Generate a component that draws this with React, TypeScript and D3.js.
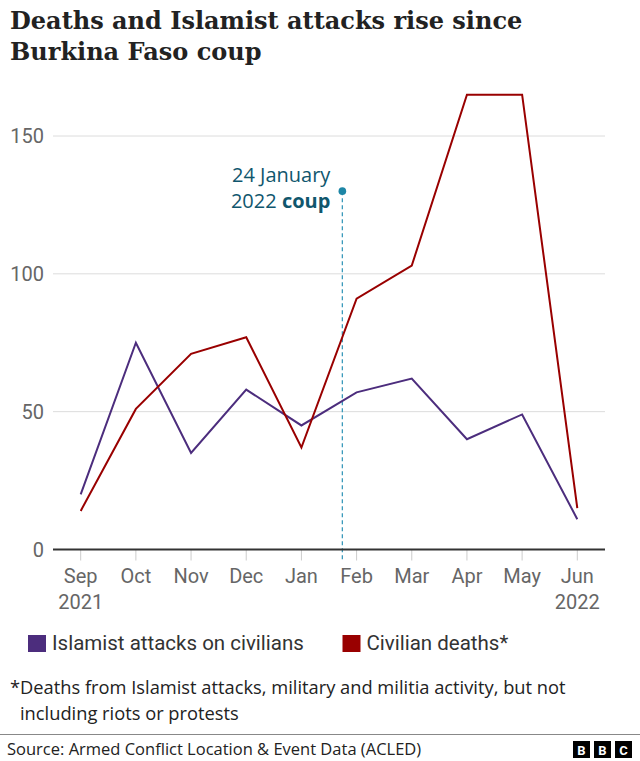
import React, { useEffect, useRef } from 'react';
import * as d3 from 'd3';

const months = ["Sep", "Oct", "Nov", "Dec", "Jan", "Feb", "Mar", "Apr", "May", "Jun"];
const yearLabels: Record<string, string> = { Sep: "2021", Jun: "2022" };
const islamistAttacks = [20, 75, 35, 58, 45, 57, 62, 40, 49, 11];
const civilianDeaths = [14, 51, 71, 77, 37, 91, 103, 165, 165, 15];
const yTicks = [0, 50, 100, 150];

// coup: 24 January 2022
const coupMonth = "Jan";
const coupDayFraction = 23 / 31;
const coupMarkerValue = 130;

const seriesList = [
  { name: "Islamist attacks on civilians", color: "#4c2d7d", values: islamistAttacks },
  { name: "Civilian deaths*", color: "#990000", values: civilianDeaths },
];

const SANS = "Roboto, 'Noto Sans', sans-serif";
const WIDE_SANS = "'Open Sans', 'Noto Sans', sans-serif";
const SERIF = "'DejaVu Serif', 'Liberation Serif', serif";

const App: React.FC = () => {
  const svgRef = useRef<SVGSVGElement>(null);

  useEffect(() => {
    if (!svgRef.current) return;
    document.body.style.margin = "0";

    const svg = d3.select(svgRef.current);
    svg.selectAll("*").remove();

    const width = 640;
    const height = 761;
    svg.attr("width", width).attr("height", height).style("display", "block");

    svg.append("rect").attr("width", width).attr("height", height).attr("fill", "#fff");

    // Title
    const title = svg.append("text")
      .attr("x", 10)
      .style("font-family", SERIF)
      .style("font-size", "24px")
      .style("font-weight", "bold")
      .attr("fill", "#222");
    title.append("tspan").attr("x", 10).attr("y", 29).text("Deaths and Islamist attacks rise since");
    title.append("tspan").attr("x", 10).attr("y", 60).text("Burkina Faso coup");

    const plotLeft = 53;
    const plotRight = 605;

    const x = d3.scalePoint<string>()
      .domain(months)
      .range([80.7, 577.3]);

    const y = d3.scaleLinear()
      .domain([0, 150])
      .range([549.5, 136]);

    // Grid
    svg.append("g")
      .selectAll("line")
      .data(yTicks.filter(d => d !== 0))
      .enter().append("line")
      .attr("x1", plotLeft)
      .attr("x2", plotRight)
      .attr("y1", d => y(d))
      .attr("y2", d => y(d))
      .attr("stroke", "#dcdcdc")
      .attr("stroke-width", 1);

    // Y labels
    svg.append("g")
      .selectAll("text")
      .data(yTicks)
      .enter().append("text")
      .attr("x", 44)
      .attr("y", d => y(d) + 7)
      .attr("text-anchor", "end")
      .style("font-family", SANS)
      .style("font-size", "20px")
      .attr("fill", "#666")
      .text(d => d);

    // X ticks
    svg.append("g")
      .selectAll("line")
      .data(months)
      .enter().append("line")
      .attr("x1", d => x(d) || 0)
      .attr("x2", d => x(d) || 0)
      .attr("y1", y(0))
      .attr("y2", y(0) + 11)
      .attr("stroke", "#cccccc")
      .attr("stroke-width", 1);

    // X labels
    const xl = svg.append("g")
      .selectAll("text")
      .data(months)
      .enter().append("text")
      .attr("text-anchor", "middle")
      .style("font-family", SANS)
      .style("font-size", "20px")
      .attr("fill", "#666");
    xl.append("tspan")
      .attr("x", d => x(d) || 0)
      .attr("y", 583)
      .text(d => d);
    xl.filter(d => !!yearLabels[d])
      .append("tspan")
      .attr("x", d => x(d) || 0)
      .attr("y", 609)
      .text(d => yearLabels[d]);

    // Coup marker
    const step = x.step();
    const coupX = (x(coupMonth) || 0) + coupDayFraction * step;
    svg.append("line")
      .attr("x1", coupX)
      .attr("x2", coupX)
      .attr("y1", y(coupMarkerValue))
      .attr("y2", y(0) + 12)
      .attr("stroke", "#3b9abb")
      .attr("stroke-width", 1.3)
      .attr("stroke-dasharray", "4,3");
    svg.append("circle")
      .attr("cx", coupX)
      .attr("cy", y(coupMarkerValue))
      .attr("r", 3.8)
      .attr("fill", "#1d86a6");

    const ann = svg.append("text")
      .attr("text-anchor", "end")
      .style("font-family", WIDE_SANS)
      .style("font-size", "20px")
      .attr("fill", "#10566d");
    ann.append("tspan").attr("x", coupX - 12).attr("y", 182).text("24 January");
    const ann2 = ann.append("tspan").attr("x", coupX - 12).attr("y", 208);
    ann2.append("tspan").text("2022 ");
    ann2.append("tspan").style("font-weight", "bold").text("coup");

    // Zero axis
    svg.append("line")
      .attr("x1", plotLeft)
      .attr("x2", plotRight)
      .attr("y1", y(0))
      .attr("y2", y(0))
      .attr("stroke", "#333")
      .attr("stroke-width", 2);

    // Lines
    const line = d3.line<number>()
      .x((_, i) => x(months[i]) || 0)
      .y(d => y(d));

    seriesList.forEach(series => {
      svg.append("path")
        .datum(series.values)
        .attr("fill", "none")
        .attr("stroke", series.color)
        .attr("stroke-width", 2)
        .attr("stroke-linejoin", "miter")
        .attr("d", line);
    });

    // Legend
    const legendX = [28, 342.5];
    seriesList.forEach((series, i) => {
      const g = svg.append("g").attr("transform", `translate(${legendX[i]}, 635)`);
      g.append("rect")
        .attr("width", 18)
        .attr("height", 17)
        .attr("fill", series.color);
      g.append("text")
        .attr("x", 24)
        .attr("y", 14.5)
        .style("font-family", SANS)
        .style("font-size", "20.5px")
        .attr("fill", "#333")
        .text(series.name);
    });

    // Footnote
    const note = svg.append("text")
      .style("font-family", WIDE_SANS)
      .style("font-size", "18.3px")
      .attr("fill", "#222");
    note.append("tspan").attr("x", 10).attr("y", 694)
      .text("*Deaths from Islamist attacks, military and militia activity, but not");
    note.append("tspan").attr("x", 20).attr("y", 720)
      .text("including riots or protests");

    // Source bar
    svg.append("line")
      .attr("x1", 0)
      .attr("x2", width)
      .attr("y1", 734.5)
      .attr("y2", 734.5)
      .attr("stroke", "#888")
      .attr("stroke-width", 1);

    svg.append("text")
      .attr("x", 7)
      .attr("y", 755)
      .style("font-family", WIDE_SANS)
      .style("font-size", "16.5px")
      .attr("fill", "#222")
      .text("Source: Armed Conflict Location & Event Data (ACLED)");

    const logo = svg.append("g").attr("transform", "translate(573, 741)");
    ["B", "B", "C"].forEach((letter, i) => {
      logo.append("rect")
        .attr("x", i * 21)
        .attr("width", 17)
        .attr("height", 17)
        .attr("fill", "#000");
      logo.append("text")
        .attr("x", i * 21 + 8.5)
        .attr("y", 13.5)
        .attr("text-anchor", "middle")
        .style("font-family", SANS)
        .style("font-size", "13px")
        .style("font-weight", "bold")
        .attr("fill", "#fff")
        .text(letter);
    });
  }, []);

  return <svg ref={svgRef}></svg>;
};

export default App;
